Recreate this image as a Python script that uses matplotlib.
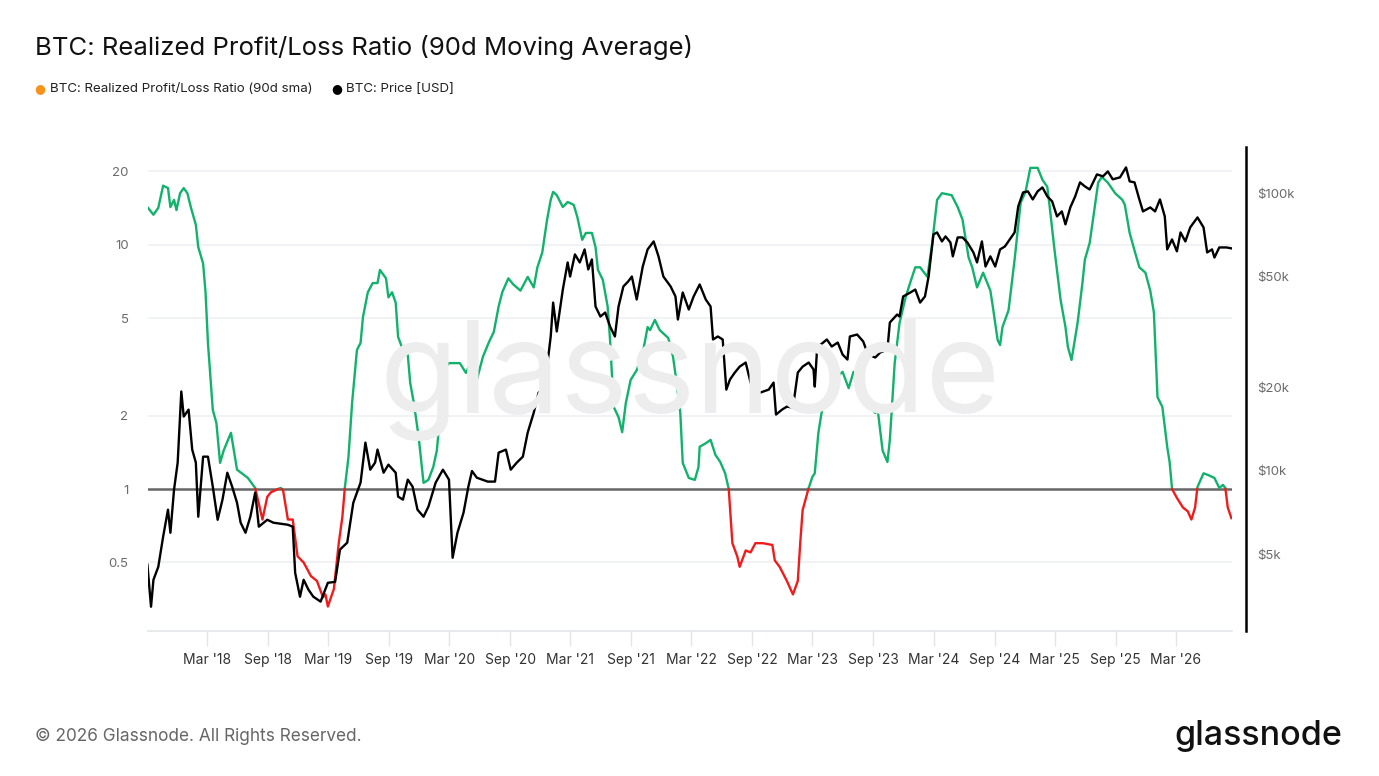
import numpy as np
import pandas as pd
import matplotlib
matplotlib.use("Agg")
import matplotlib.pyplot as plt
import matplotlib.dates as mdates
from matplotlib.ticker import FixedLocator, NullLocator

# ---------------- data ----------------
ratio_years = [
    2017.67, 2017.72, 2017.76, 2017.80, 2017.84, 2017.86, 2017.89, 2017.91, 2017.94, 2017.97,
    2018.00, 2018.03, 2018.07, 2018.09, 2018.13, 2018.15, 2018.17, 2018.21, 2018.24, 2018.27,
    2018.30, 2018.36, 2018.41, 2018.50, 2018.56, 2018.62, 2018.66, 2018.69, 2018.77, 2018.79,
    2018.83, 2018.87, 2018.91, 2018.96, 2019.02, 2019.07, 2019.12, 2019.14, 2019.16, 2019.21,
    2019.25, 2019.28, 2019.30, 2019.33, 2019.36, 2019.40, 2019.43, 2019.45, 2019.49, 2019.53,
    2019.57, 2019.59, 2019.64, 2019.66, 2019.69, 2019.72, 2019.74, 2019.78, 2019.82, 2019.84,
    2019.87, 2019.91, 2019.95, 2019.99, 2020.03, 2020.06, 2020.09, 2020.11, 2020.16, 2020.25,
    2020.30, 2020.33, 2020.36, 2020.39, 2020.44, 2020.49, 2020.53, 2020.57, 2020.60, 2020.65,
    2020.69, 2020.75, 2020.81, 2020.86, 2020.89, 2020.93, 2020.97, 2021.00, 2021.02, 2021.05,
    2021.10, 2021.14, 2021.19, 2021.22, 2021.26, 2021.29, 2021.34, 2021.37, 2021.39, 2021.43,
    2021.47, 2021.49, 2021.52, 2021.56, 2021.59, 2021.62, 2021.66, 2021.71, 2021.76, 2021.80,
    2021.82, 2021.86, 2021.90, 2021.97, 2022.01, 2022.04, 2022.07, 2022.09, 2022.14, 2022.19,
    2022.22, 2022.23, 2022.28, 2022.32, 2022.36, 2022.40, 2022.44, 2022.47, 2022.50, 2022.54,
    2022.56, 2022.61, 2022.65, 2022.69, 2022.75, 2022.83, 2022.85, 2022.89, 2022.95, 2023.00,
    2023.04, 2023.06, 2023.08, 2023.13, 2023.16, 2023.18, 2023.21, 2023.24, 2023.28, 2023.33,
    2023.35, 2023.41, 2023.46, 2023.50, 2023.55, 2023.58, 2023.64, 2023.68, 2023.70, 2023.74,
    2023.78, 2023.80, 2023.84, 2023.88, 2023.93, 2023.97, 2024.01, 2024.05, 2024.11, 2024.15,
    2024.19, 2024.23, 2024.31, 2024.36, 2024.40, 2024.45, 2024.48, 2024.52, 2024.57, 2024.63,
    2024.65, 2024.69, 2024.71, 2024.73, 2024.78, 2024.81, 2024.83, 2024.88, 2024.92, 2024.96,
    2025.02, 2025.06, 2025.10, 2025.12, 2025.16, 2025.21, 2025.25, 2025.27, 2025.30, 2025.35,
    2025.39, 2025.41, 2025.45, 2025.48, 2025.52, 2025.55, 2025.60, 2025.66, 2025.72, 2025.74,
    2025.78, 2025.82, 2025.86, 2025.91, 2025.95, 2025.98, 2026.01, 2026.05, 2026.09, 2026.11,
    2026.13, 2026.17, 2026.22, 2026.26, 2026.29, 2026.32, 2026.34, 2026.39, 2026.43, 2026.48,
    2026.52, 2026.55, 2026.57, 2026.59, 2026.62,
]
ratio_values = [
    14.3, 13.3, 14.2, 17.5, 17.1, 14.3, 15.3, 13.9, 16.3, 17.1,
    16.3, 14.2, 12.1, 9.8, 8.4, 6.4, 3.97, 2.11, 1.86, 1.28,
    1.44, 1.70, 1.20, 1.11, 1.01, 0.75, 0.93, 0.97, 1.01, 0.99,
    0.75, 0.75, 0.53, 0.50, 0.44, 0.42, 0.36, 0.37, 0.33, 0.39,
    0.60, 0.77, 1.01, 1.35, 2.25, 3.71, 3.97, 5.07, 6.4, 6.98,
    6.98, 7.9, 7.3, 6.1, 6.4, 5.8, 4.2, 3.71, 3.54, 2.72,
    2.25, 1.63, 1.06, 1.09, 1.23, 1.44, 2.11, 3.07, 3.28, 3.28,
    2.99, 3.22, 2.55, 2.80, 3.48, 4.0, 4.4, 5.6, 6.4, 7.3,
    6.9, 6.5, 7.4, 6.7, 8.1, 9.3, 12.7, 15.3, 16.5, 16.0,
    14.3, 15.0, 14.6, 13.0, 10.5, 11.2, 11.2, 9.8, 7.9, 7.2,
    5.6, 4.08, 2.17, 1.97, 1.71, 2.25, 2.80, 3.07, 3.61, 4.61,
    4.48, 4.93, 4.48, 4.16, 3.48, 2.72, 2.05, 1.28, 1.11, 1.09,
    1.23, 1.49, 1.54, 1.59, 1.38, 1.29, 1.16, 1.0, 0.60, 0.53,
    0.48, 0.56, 0.55, 0.60, 0.60, 0.59, 0.51, 0.48, 0.42, 0.37,
    0.42, 0.60, 0.82, 1.01, 1.12, 1.16, 1.70, 2.11, 2.38, 2.43,
    2.85, 3.02, 2.59, 3.02, 2.88, 2.36, 2.17, 2.05, 2.11, 1.44,
    1.29, 1.59, 3.28, 4.79, 6.1, 7.05, 8.1, 8.1, 7.4, 10.2,
    15.3, 16.3, 16.0, 14.3, 12.7, 8.9, 8.1, 6.7, 7.7, 6.5,
    5.6, 4.08, 3.89, 4.61, 5.4, 7.2, 8.7, 14.9, 16.5, 20.7,
    20.7, 18.5, 17.3, 14.3, 9.5, 5.95, 4.61, 3.82, 3.38, 4.79,
    6.98, 8.7, 10.2, 13.0, 18.0, 19.0, 18.0, 16.3, 15.3, 14.6,
    11.2, 9.5, 8.1, 7.7, 6.5, 5.3, 2.38, 2.17, 1.49, 1.29,
    1.0, 0.92, 0.84, 0.81, 0.75, 0.84, 1.02, 1.16, 1.14, 1.11,
    1.01, 1.04, 1.01, 0.84, 0.76,
]

price_years = [
    2017.67, 2017.70, 2017.72, 2017.76, 2017.80, 2017.84, 2017.86, 2017.89, 2017.92, 2017.95,
    2017.97, 2018.01, 2018.04, 2018.07, 2018.09, 2018.13, 2018.17, 2018.21, 2018.25, 2018.29,
    2018.33, 2018.37, 2018.41, 2018.44, 2018.48, 2018.52, 2018.56, 2018.59, 2018.66, 2018.71,
    2018.83, 2018.87, 2018.89, 2018.93, 2018.96, 2019.00, 2019.04, 2019.10, 2019.16, 2019.22,
    2019.26, 2019.32, 2019.37, 2019.43, 2019.47, 2019.51, 2019.55, 2019.57, 2019.62, 2019.66,
    2019.72, 2019.74, 2019.78, 2019.82, 2019.86, 2019.90, 2019.95, 2019.99, 2020.05, 2020.11,
    2020.16, 2020.19, 2020.23, 2020.28, 2020.32, 2020.35, 2020.39, 2020.48, 2020.54, 2020.57,
    2020.63, 2020.67, 2020.72, 2020.77, 2020.81, 2020.86, 2020.90, 2020.94, 2020.97, 2021.00,
    2021.02, 2021.05, 2021.10, 2021.14, 2021.16, 2021.20, 2021.24, 2021.28, 2021.31, 2021.34,
    2021.37, 2021.41, 2021.45, 2021.49, 2021.53, 2021.56, 2021.60, 2021.64, 2021.67, 2021.71,
    2021.76, 2021.80, 2021.85, 2021.89, 2021.93, 2021.99, 2022.03, 2022.05, 2022.09, 2022.14,
    2022.18, 2022.23, 2022.28, 2022.32, 2022.34, 2022.38, 2022.42, 2022.45, 2022.48, 2022.52,
    2022.56, 2022.61, 2022.65, 2022.69, 2022.73, 2022.80, 2022.84, 2022.86, 2022.91, 2022.95,
    2023.00, 2023.04, 2023.08, 2023.13, 2023.17, 2023.18, 2023.20, 2023.25, 2023.28, 2023.32,
    2023.37, 2023.41, 2023.45, 2023.47, 2023.53, 2023.58, 2023.62, 2023.68, 2023.72, 2023.78,
    2023.80, 2023.86, 2023.88, 2023.91, 2023.97, 2024.01, 2024.05, 2024.09, 2024.12, 2024.16,
    2024.19, 2024.23, 2024.26, 2024.30, 2024.32, 2024.36, 2024.40, 2024.44, 2024.49, 2024.52,
    2024.56, 2024.59, 2024.63, 2024.67, 2024.71, 2024.75, 2024.79, 2024.83, 2024.86, 2024.90,
    2024.94, 2024.98, 2025.02, 2025.06, 2025.10, 2025.14, 2025.18, 2025.22, 2025.25, 2025.29,
    2025.33, 2025.37, 2025.41, 2025.45, 2025.51, 2025.56, 2025.60, 2025.64, 2025.70, 2025.75,
    2025.78, 2025.82, 2025.86, 2025.89, 2025.95, 2025.99, 2026.03, 2026.07, 2026.09, 2026.13,
    2026.17, 2026.20, 2026.24, 2026.28, 2026.34, 2026.39, 2026.42, 2026.46, 2026.48, 2026.52,
    2026.58, 2026.62,
]
price_values = [
    4580, 3230, 4040, 4500, 5780, 7230, 5970, 8540, 10690, 19300,
    15670, 16600, 11910, 10690, 6820, 11230, 11230, 8750, 6650, 7860,
    9830, 8750, 7660, 6490, 5970, 6820, 8330, 6280, 6650, 6490,
    6380, 6280, 4280, 3510, 4040, 3720, 3510, 3370, 3940, 3970,
    5190, 5500, 7660, 9050, 12620, 10080, 10690, 11910, 9830, 10510,
    9830, 8060, 7860, 9280, 8750, 7230, 6820, 7410, 9050, 10080,
    9280, 4850, 5970, 7050, 8750, 9970, 9430, 9130, 9130, 11610,
    11910, 10080, 10690, 11230, 13720, 16190, 19120, 19600, 23720, 30470,
    40380, 31770, 45000, 56350, 50140, 60240, 56350, 62800, 53170, 57770,
    39080, 35970, 37170, 33110, 30470, 39080, 46160, 48140, 50140, 41430,
    54480, 62800, 67100, 59270, 50140, 46160, 42490, 35080, 43920, 38120,
    42490, 46930, 41430, 39080, 29720, 30470, 29720, 19600, 21310, 22580,
    23720, 24540, 20780, 19600, 19120, 19600, 20780, 15930, 16600, 17020,
    16880, 22580, 23720, 24540, 23160, 20100, 27800, 28970, 29720, 28040,
    28970, 26220, 25160, 30470, 30970, 29240, 26220, 25590, 26670, 27350,
    34220, 36560, 35970, 42490, 43920, 45000, 40380, 42490, 50140, 71120,
    72300, 67100, 69950, 66530, 59270, 69370, 69370, 66530, 61230, 56350,
    67100, 54480, 59270, 54480, 62800, 64360, 68230, 72300, 89740, 100800,
    101700, 95100, 101700, 105100, 97500, 93600, 82600, 86100, 77300, 89000,
    97500, 109600, 106000, 103300, 117100, 115200, 120000, 112400, 114200, 124100,
    110500, 109600, 95100, 86100, 89000, 86100, 95100, 82600, 62800, 68230,
    61800, 72300, 67100, 75400, 81900, 75400, 61230, 62800, 58700, 63830,
    63830, 63350,
]

x_tick_labels = ["Mar '18", "Sep '18", "Mar '19", "Sep '19", "Mar '20", "Sep '20",
                 "Mar '21", "Sep '21", "Mar '22", "Sep '22", "Mar '23", "Sep '23",
                 "Mar '24", "Sep '24", "Mar '25", "Sep '25", "Mar '26"]
x_tick_dates = ["2018-03-01", "2018-09-01", "2019-03-01", "2019-09-01", "2020-03-01",
                "2020-09-01", "2021-03-01", "2021-09-01", "2022-03-01", "2022-09-01",
                "2023-03-01", "2023-09-01", "2024-03-01", "2024-09-01", "2025-03-01",
                "2025-09-01", "2026-03-01"]
ratio_ticks = [0.5, 1, 2, 5, 10, 20]
ratio_tick_labels = ["0.5", "1", "2", "5", "10", "20"]
price_ticks = [5000, 10000, 20000, 50000, 100000]
price_tick_labels = ["$5k", "$10k", "$20k", "$50k", "$100k"]

# ---------------- helpers ----------------
def to_dates(years):
    years = np.asarray(years, dtype=float)
    return pd.Timestamp("2018-01-01") + pd.to_timedelta((years - 2018.0) * 365.25, unit="D")

def split_at_one(t, v):
    ts, vs = [t[0]], [v[0]]
    for i in range(1, len(v)):
        a, b = v[i - 1], v[i]
        if (a - 1) * (b - 1) < 0:
            la, lb = np.log(a), np.log(b)
            f = -la / (lb - la)
            ts.append(t[i - 1] + f * (t[i] - t[i - 1]))
            vs.append(1.0)
        ts.append(t[i])
        vs.append(b)
    return np.array(ts), np.array(vs)

GREEN = "#13b26c"
RED = "#f01c1c"
ORANGE = "#f7931a"
FONT = ["Inter", "DejaVu Sans"]
plt.rcParams["font.family"] = FONT

W, H = 1379, 776
fig = plt.figure(figsize=(W / 100, H / 100), dpi=100)
fig.patch.set_facecolor("white")

L, R, B, T = 148, 1232, 631, 147
ax = fig.add_axes([L / W, 1 - B / H, (R - L) / W, (B - T) / H])
ax2 = ax.twinx()

# watermark
fig.text((385 + 995) / 2 / W, 1 - 380 / H, "glassnode", ha="center", va="center",
         fontsize=92, color="#ededed", family=FONT, zorder=0)
ax.patch.set_alpha(0)
ax2.patch.set_alpha(0)

# ratio line
ty, tv = split_at_one(np.array(ratio_years), np.array(ratio_values))
tdates = to_dates(ty)
green = np.where(tv >= 1, tv, np.nan)
red = np.where(tv <= 1, tv, np.nan)
ax.plot(tdates, green, color=GREEN, lw=1.7, solid_joinstyle="round", zorder=3)
ax.plot(tdates, red, color=RED, lw=1.7, solid_joinstyle="round", zorder=3)
ax.axhline(1, color="#666666", lw=1.8, zorder=2)

ax.set_yscale("log")
ax.set_ylim(0.262, 25.2)
ax.yaxis.set_major_locator(FixedLocator(ratio_ticks))
ax.yaxis.set_minor_locator(NullLocator())
ax.set_yticklabels(ratio_tick_labels)
ax.tick_params(axis="y", length=0, pad=14, labelsize=9.5, labelcolor="#6b6b6b")
for v in ratio_ticks:
    if v != 1:
        ax.axhline(v, color="#eef0f4", lw=1.2, zorder=1)

# price line
pdates = to_dates(price_years)
ax2.plot(pdates, price_values, color="black", lw=1.7, solid_joinstyle="round", zorder=4)
ax2.set_yscale("log")
ax2.set_ylim(2640, 147000)
ax2.yaxis.set_major_locator(FixedLocator(price_ticks))
ax2.yaxis.set_minor_locator(NullLocator())
ax2.set_yticklabels(price_tick_labels)
ax2.tick_params(axis="y", length=0, pad=8, labelsize=9.5, labelcolor="#6b6b6b")

# x axis
xmin = to_dates([2017.675])[0]
xmax = to_dates([2026.625])[0]
ax.set_xlim(xmin, xmax)
ax.xaxis.set_major_locator(FixedLocator(mdates.date2num(pd.to_datetime(x_tick_dates))))
ax.set_xticklabels(x_tick_labels)
ax.tick_params(axis="x", length=11, width=1, color="#e3e5ea", pad=5, labelsize=10,
               labelcolor="#333333")

for a in (ax, ax2):
    for s in ("top", "left"):
        a.spines[s].set_visible(False)
ax.spines["right"].set_visible(False)
ax2.spines["bottom"].set_visible(False)
ax.spines["bottom"].set_color("#e3e5ea")
ax.spines["bottom"].set_linewidth(1.2)
ax2.spines["right"].set_position(("outward", 10))
ax2.spines["right"].set_color("black")
ax2.spines["right"].set_linewidth(1.8)

# title, legend, footer
fig.text(35 / W, 1 - 48 / H, "BTC: Realized Profit/Loss Ratio (90d Moving Average)",
         ha="left", va="center", fontsize=18.5, color="#111111")
fig.text(40 / W, 1 - 89 / H, "●", ha="center", va="center", fontsize=9, color=ORANGE,
         family=["DejaVu Sans"])
fig.text(50 / W, 1 - 89 / H, "BTC: Realized Profit/Loss Ratio (90d sma)", ha="left",
         va="center", fontsize=9.6, color="#222222")
fig.text(337 / W, 1 - 89 / H, "●", ha="center", va="center", fontsize=9, color="black",
         family=["DejaVu Sans"])
fig.text(346 / W, 1 - 89 / H, "BTC: Price [USD]", ha="left", va="center", fontsize=9.6,
         color="#222222")
fig.text(35 / W, 1 - 736 / H, "© 2026 Glassnode. All Rights Reserved.", ha="left",
         va="center", fontsize=12.4, color="#666666")
fig.text(1342 / W, 1 - 736 / H, "glassnode", ha="right", va="center", fontsize=24.5,
         color="#111111", fontweight="medium")

fig.savefig("out.png", dpi=100, facecolor="white")
